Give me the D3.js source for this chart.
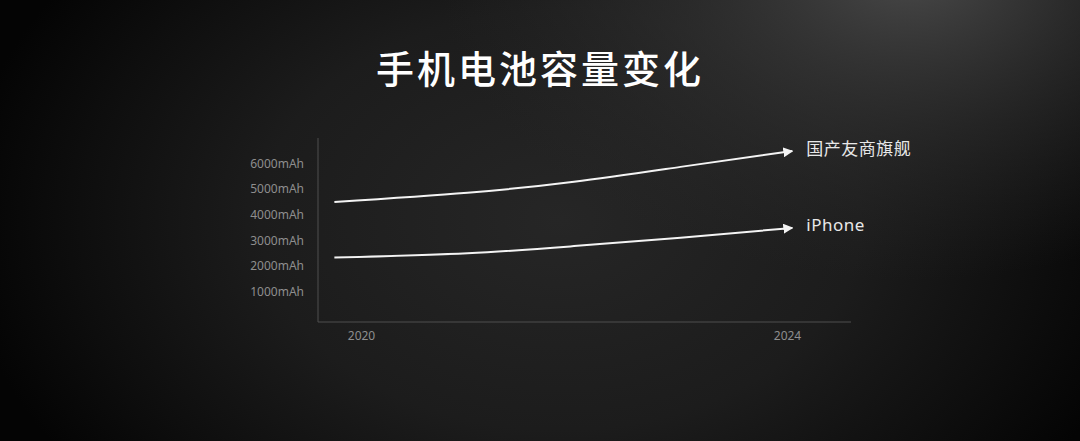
<!DOCTYPE html>
<html>
<head>
<meta charset="utf-8">
<script src="https://cdn.jsdelivr.net/npm/d3@7"></script>
<style>
  html, body { margin: 0; padding: 0; }
  body {
    width: 1080px; height: 441px; overflow: hidden;
    background: #050505;
  }
</style>
</head>
<body>
<div id="chart"></div>
<script>
// battery capacity
const title = "手机电池容量变化";
const years = [2019.75, 2021, 2022, 2023, 2024.05];
const flagshipValues = [4500, 4860, 5290, 5870, 6490];
const iphoneValues = [2320, 2490, 2770, 3100, 3480];
const seriesNames = ["国产友商旗舰", "iPhone"];
const yTicks = [1000, 2000, 3000, 4000, 5000, 6000];
const xTicks = [2020, 2024];

const width = 1080;
const height = 441;

const svg = d3.select("#chart")
  .append("svg")
  .attr("width", width)
  .attr("height", height);

const defs = svg.append("defs");

function radial(id, transform, stops) {
  const g = defs.append("radialGradient")
    .attr("id", id)
    .attr("gradientUnits", "userSpaceOnUse")
    .attr("cx", 0).attr("cy", 0).attr("r", 1)
    .attr("gradientTransform", transform);
  stops.forEach(([o, c, a]) =>
    g.append("stop")
      .attr("offset", o)
      .attr("stop-color", c)
      .attr("stop-opacity", a));
}

// soft grey glow behind the chart
radial("bg-base", "translate(560,220) scale(600,420)", [
  [0, "#262626", 1],
  [0.5, "#1c1c1c", 1],
  [0.8, "#0e0e0e", 1],
  [1, "#040404", 1]
]);
// brighter corner light at the top right
radial("bg-top", "translate(910,-30) scale(470,310)", [
  [0, "#4a4a4a", 1],
  [0.5, "#363636", 0.55],
  [1, "#2a2a2a", 0]
]);

svg.append("rect")
  .attr("width", width)
  .attr("height", height)
  .attr("fill", "url(#bg-base)");
svg.append("rect")
  .attr("width", width)
  .attr("height", height)
  .attr("fill", "url(#bg-top)");

defs.append("marker")
  .attr("id", "arrow")
  .attr("viewBox", "0 0 10 10")
  .attr("refX", 9)
  .attr("refY", 5)
  .attr("markerWidth", 5)
  .attr("markerHeight", 5)
  .attr("markerUnits", "strokeWidth")
  .attr("orient", "auto")
  .append("path")
  .attr("d", "M0,0 L10,5 L0,10 Z")
  .attr("fill", "#f4f4f4");

// title
svg.append("text")
  .attr("x", 540)
  .attr("y", 66)
  .attr("text-anchor", "middle")
  .attr("dominant-baseline", "central")
  .style("font-family", "'Noto Sans CJK SC', sans-serif")
  .style("font-weight", 500)
  .style("font-size", "38px")
  .style("letter-spacing", "3px")
  .style("fill", "#ffffff")
  .text(title);

const x = d3.scaleLinear().domain([2020, 2024]).range([361, 787]);
const y = d3.scaleLinear().domain([-200, 7000]).range([322, 138]);

// axis lines
svg.append("line")
  .attr("x1", 318).attr("x2", 318)
  .attr("y1", y(7000)).attr("y2", y(-200))
  .attr("stroke", "#4f4f4f")
  .attr("stroke-width", 1);

svg.append("line")
  .attr("x1", 318).attr("x2", 851)
  .attr("y1", y(-200)).attr("y2", y(-200))
  .attr("stroke", "#4f4f4f")
  .attr("stroke-width", 1);

const yAxis = d3.axisLeft(y)
  .tickValues(yTicks)
  .tickSize(0)
  .tickPadding(14)
  .tickFormat((d) => `${d}mAh`);

const yg = svg.append("g")
  .attr("transform", "translate(318,0)")
  .call(yAxis);
yg.select(".domain").remove();
yg.selectAll("text")
  .style("font-family", "'Noto Sans', sans-serif")
  .style("font-size", "12px")
  .style("fill", "#8e8e8e");

const xAxis = d3.axisBottom(x)
  .tickValues(xTicks)
  .tickSize(0)
  .tickPadding(9)
  .tickFormat(d3.format("d"));

const xg = svg.append("g")
  .attr("transform", `translate(0,${y(-200)})`)
  .call(xAxis);
xg.select(".domain").remove();
xg.selectAll("text")
  .style("font-family", "'Noto Sans', sans-serif")
  .style("font-size", "12px")
  .style("fill", "#8e8e8e");

const series = [flagshipValues, iphoneValues].map((vals, i) => ({
  name: seriesNames[i],
  points: years.map((yr, j) => ({ year: yr, value: vals[j] }))
}));

const line = d3.line()
  .x((d) => x(d.year))
  .y((d) => y(d.value))
  .curve(d3.curveNatural);

svg.selectAll(".series")
  .data(series)
  .enter()
  .append("path")
  .attr("class", "series")
  .attr("d", (d) => line(d.points))
  .attr("fill", "none")
  .attr("stroke", "#f4f4f4")
  .attr("stroke-width", 2)
  .attr("marker-end", "url(#arrow)");

svg.selectAll(".series-label")
  .data(series)
  .enter()
  .append("text")
  .attr("class", "series-label")
  .attr("x", (d) => x(d.points[d.points.length - 1].year) + 14)
  .attr("y", (d) => y(d.points[d.points.length - 1].value) - 3)
  .attr("dominant-baseline", "central")
  .style("font-family", "'Noto Sans', 'Noto Sans CJK SC', sans-serif")
  .style("font-size", "17px")
  .style("letter-spacing", "0.5px")
  .style("fill", "#e8e8e8")
  .text((d) => d.name);
</script>
</body>
</html>
